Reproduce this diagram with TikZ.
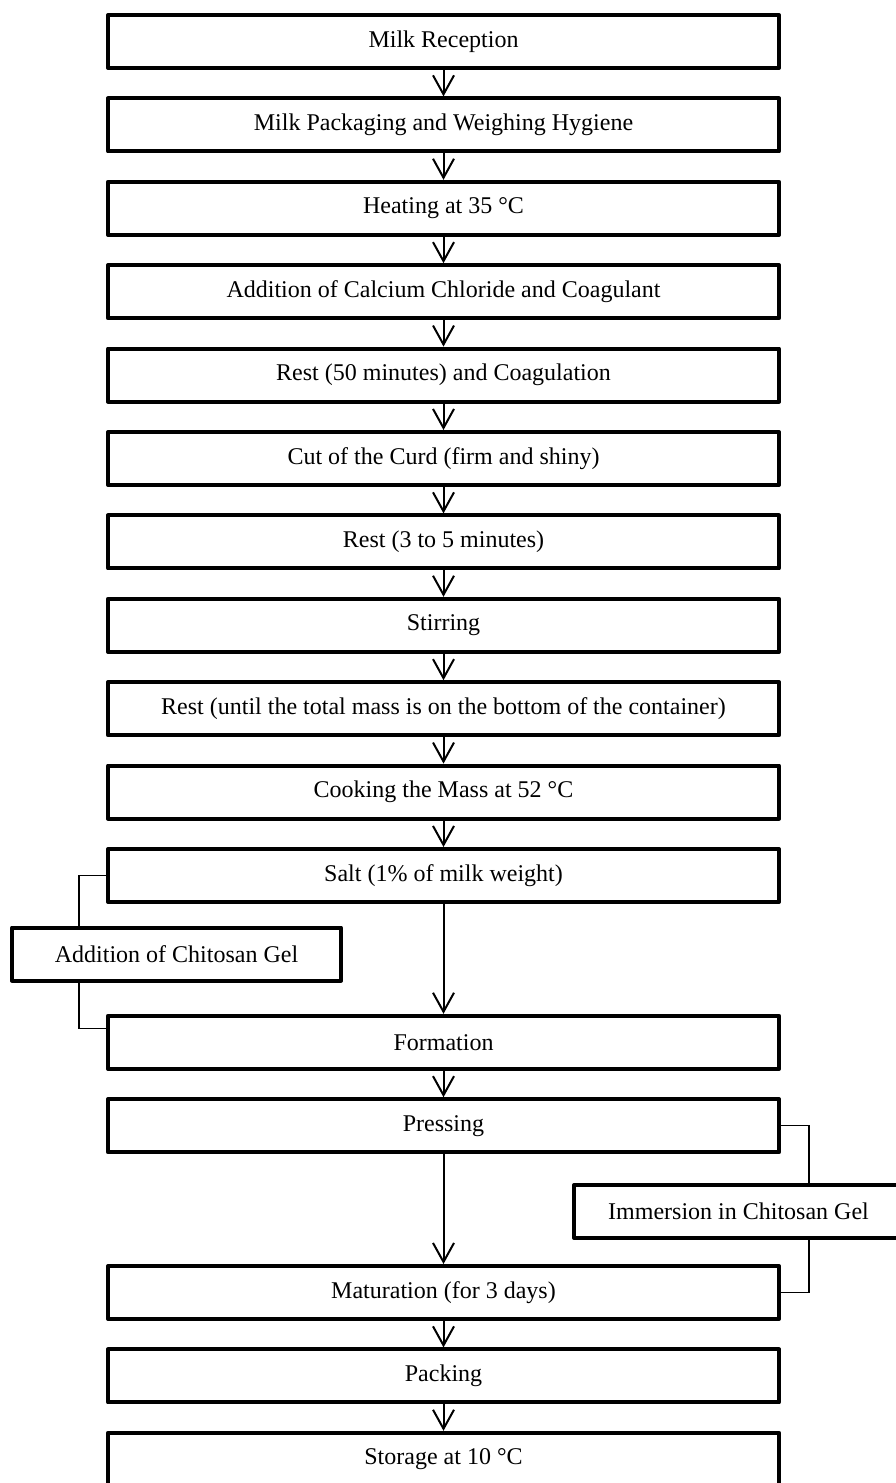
\documentclass[tikz,border=0pt]{standalone}
\usepackage{fontspec}
\setmainfont{Liberation Serif}
\usetikzlibrary{arrows.meta}
\begin{document}
\begin{tikzpicture}[x=0.5pt, y=-0.5pt]
    % Node styles
    \tikzstyle{box_style} = [rectangle, draw, line width=2pt, line join=round, minimum width=335.5pt, minimum height=26.5pt, inner sep=0pt, font=\fontsize{12}{14}\selectfont]
    \tikzstyle{side_style} = [box_style, minimum width=164.5pt]
    \tikzstyle{arrow_style} = [line width=1pt, -{Straight Barb[length=9.5pt, width=10.5pt]}]
    \tikzstyle{line_style} = [line width=0.75pt]

    \useasboundingbox (0,0) rectangle (895,1483);

    % Nodes
    \node[box_style] (1) at (443.5,41.5) {Milk Reception};
    \node[box_style] (2) at (443.5,124.9) {Milk Packaging and Weighing Hygiene};
    \node[box_style] (3) at (443.5,208.3) {Heating at 35 °C};
    \node[box_style] (4) at (443.5,291.7) {Addition of Calcium Chloride and Coagulant};
    \node[box_style] (5) at (443.5,375.1) {Rest (50 minutes) and Coagulation};
    \node[box_style] (6) at (443.5,458.5) {Cut of the Curd (firm and shiny)};
    \node[box_style] (7) at (443.5,541.9) {Rest (3 to 5 minutes)};
    \node[box_style] (8) at (443.5,625.3) {Stirring};
    \node[box_style] (9) at (443.5,708.7) {Rest (until the total mass is on the bottom of the container)};
    \node[box_style] (10) at (443.5,792.1) {Cooking the Mass at 52 °C};
    \node[box_style] (11) at (443.5,875.5) {Salt (1\% of milk weight)};
    \node[side_style] (12) at (176.5,954) {Addition of Chitosan Gel};
    \node[box_style] (13) at (443.5,1042.3) {Formation};
    \node[box_style] (14) at (443.5,1125.7) {Pressing};
    \node[side_style] (15) at (738.5,1211.5) {Immersion in Chitosan Gel};
    \node[box_style] (16) at (443.5,1292.5) {Maturation (for 3 days)};
    \node[box_style] (17) at (443.5,1375.9) {Packing};
    \node[box_style] (18) at (443.5,1459.3) {Storage at 10 °C};

    % Side lines
    \coordinate (l) at (79,0);
    \coordinate (r) at (809,0);
    \draw[line_style] (11.west) -| (l |- 12.north);
    \draw[line_style] (l |- 12.south) |- ([yshift=7pt]13.west);
    \draw[line_style] (14.east) -| (r |- 15.north);
    \draw[line_style] (r |- 15.south) |- (16.east);

    % Arrows
    \draw[arrow_style] (1) -- (2);
    \draw[arrow_style] (2) -- (3);
    \draw[arrow_style] (3) -- (4);
    \draw[arrow_style] (4) -- (5);
    \draw[arrow_style] (5) -- (6);
    \draw[arrow_style] (6) -- (7);
    \draw[arrow_style] (7) -- (8);
    \draw[arrow_style] (8) -- (9);
    \draw[arrow_style] (9) -- (10);
    \draw[arrow_style] (10) -- (11);
    \draw[arrow_style] (11) -- (13);
    \draw[arrow_style] (13) -- (14);
    \draw[arrow_style] (14) -- (16);
    \draw[arrow_style] (16) -- (17);
    \draw[arrow_style] (17) -- (18);
\end{tikzpicture}
\end{document}
